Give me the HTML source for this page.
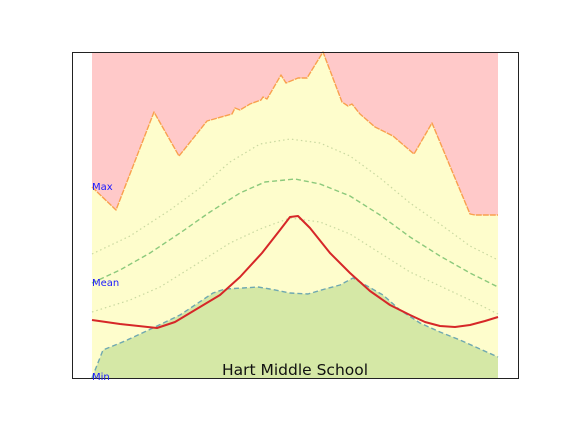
<!DOCTYPE html>
<html><head><meta charset="utf-8"><style>
body{margin:0;background:#fff;width:576px;height:432px;overflow:hidden}
svg{display:block;font-family:"DejaVu Sans","Liberation Sans",sans-serif}
</style></head><body>
<svg id="chart" width="576" height="432"></svg>
<script>
// Data (x: day offset 0..406, y: value 0..326)
const maxX=[0,24,62,87,115,140,143,148,158,169,171,175,189,194,206,215,231,250,256,260,268,283,301,322,340,378,383,406];
const maxY=[191,168,266,222,257,264,270,268,274,278,281,279,303,295,300,300,326,276,272,274,264,251,242,224,255,164,163,163];
const minX=[0,11,33,63,88,121,133,151,166,178,198,216,233,248,261,291,308,328,348,368,388,406];
const minY=[0,28,37,51,63,85,89,90,91,89,85,84,89,93,100,83,68,55,46,38,29,21];
const meanX=[0,28,58,88,118,148,173,203,228,258,288,318,348,378,406];
const meanY=[95,108,125,145,166,185,196,199,194,182,163,141,122,105,91];
const upX=[0,38,78,108,138,168,198,228,258,288,318,348,378,406];
const upY=[124,142,168,190,216,234,239,235,222,200,175,154,132,118];
const loX=[0,38,68,108,138,168,198,228,258,288,318,348,378,406];
const loY=[66,78,91,116,135,149,160,156,144,125,106,92,78,64];
const redX=[0,28,65,83,108,128,148,170,188,198,206,218,238,258,278,298,318,333,348,363,378,393,406];
const redY=[58,54,50,56,71,83,101,125,148,161,162,150,125,105,87,73,63,56,52,51,53,57,61];

const svg=document.getElementById('chart');
const NS='http://www.w3.org/2000/svg';
const X=v=>92+v, Y=v=>378-v;
const T=326;
function pts(xs,ys){return xs.map((x,i)=>X(x).toFixed(1)+','+Y(ys[i]).toFixed(1));}
function mk(tag,attrs){const e=document.createElementNS(NS,tag);for(const k in attrs)e.setAttribute(k,attrs[k]);svg.appendChild(e);return e;}

let p=mk('polygon',{points:[X(0)+','+Y(T)].concat(pts(maxX,maxY)).concat([X(406)+','+Y(T)]).join(' '),fill:'#ffc9c9'});


let yv=mk('polygon',{points:pts(maxX,maxY).concat(pts(minX,minY).reverse()).join(' '),fill:'#fefdcc'});


let g=mk('polygon',{points:[X(0)+','+Y(0)].concat(pts(minX,minY)).concat([X(406)+','+Y(0)]).join(' '),fill:'#d5e8a6'});



function line(xs,ys,stroke,w,dash,name){
  const l=mk('polyline',{points:pts(xs,ys).join(' '),fill:'none',stroke:stroke,'stroke-width':w,'stroke-dasharray':dash||'none','stroke-linejoin':'round'});
  
  
}
line(upX,upY,'#c9d8a0',1.2,'1.5,3','upper-std-line');
line(loX,loY,'#c9d8a0',1.2,'1.5,3','lower-std-line');
line(meanX,meanY,'#8cc97c',1.4,'5,3','mean-line');
line(maxX,maxY,'#f9a04e',1.4,'6,1','max-line');
line(minX,minY,'#6fa8b0',1.4,'5,3','min-line');
line(redX,redY,'#d62728',2,null,'current-year-line');

let f=mk('rect',{x:72.5,y:52.5,width:446,height:326,fill:'none',stroke:'#222','stroke-width':1});



function txt(x,y,s,size,fill,name,anchor){
  const t=mk('text',{x:x,y:y,'font-size':size,fill:fill,'text-anchor':anchor||'start'});
  t.textContent=s;
  
  
}
txt(92,190,'Max',10,'#1a1aff','max-label');
txt(92,286,'Mean',10,'#1a1aff','mean-label');
txt(92,380,'Min',10,'#1a1aff','min-label');
txt(295,375,'Hart Middle School',15.5,'#111','chart-title','middle');
</script>
</body></html>
